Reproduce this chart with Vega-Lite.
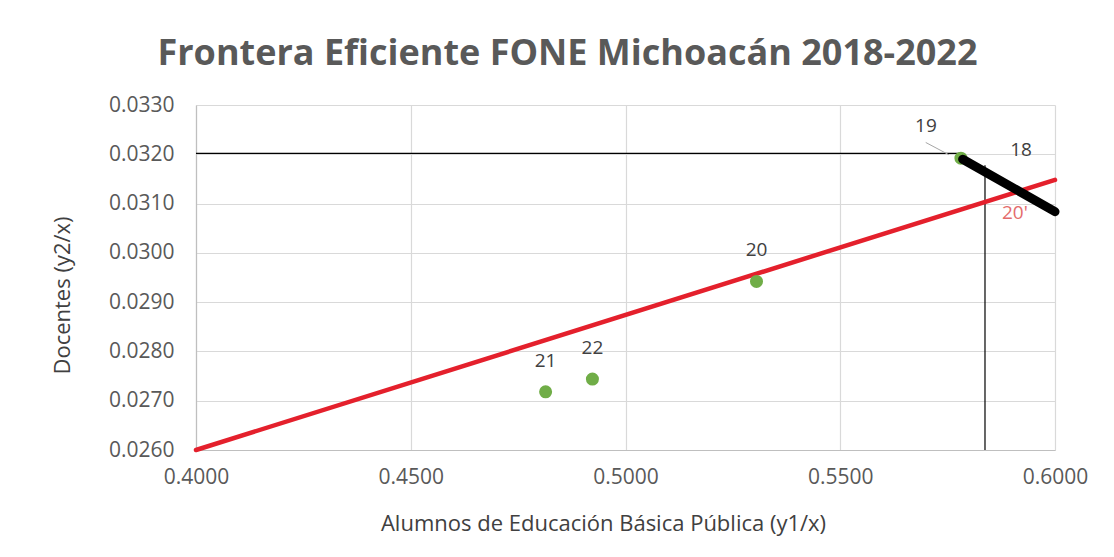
{
  "$schema": "https://vega.github.io/schema/vega-lite/v6.json",
  "width": 859,
  "height": 345,
  "autosize": {"type": "none"},
  "padding": {"left": 196, "top": 105, "right": 59, "bottom": 107},
  "background": "white",
  "title": {
    "text": "Frontera Eficiente FONE Michoacán 2018-2022",
    "font": "Open Sans",
    "fontSize": 36,
    "fontWeight": "bold",
    "color": "#595959",
    "anchor": "middle",
    "frame": "group",
    "dx": -58,
    "offset": 21
  },
  "datasets": {
    "puntos": [
      {"etiqueta": "19", "x": 0.5781, "y": 0.03192, "tipo": "observado"},
      {"etiqueta": "20", "x": 0.5305, "y": 0.02942, "tipo": "observado"},
      {"etiqueta": "21", "x": 0.4814, "y": 0.02718, "tipo": "observado"},
      {"etiqueta": "22", "x": 0.4923, "y": 0.02744, "tipo": "observado"},
      {"etiqueta": "18", "x": 0.5893, "y": 0.0314, "tipo": "frontera"},
      {"etiqueta": "20'", "x": 0.5916, "y": 0.03126, "tipo": "proyectado"}
    ],
    "lineas": [
      {"id": "horizontal", "x": 0.4, "y": 0.03202, "x2": 0.5781, "y2": 0.03202},
      {"id": "vertical", "x": 0.5837, "y": 0.03178, "x2": 0.5837, "y2": 0.026},
      {"id": "regresion", "x": 0.4, "y": 0.026, "x2": 0.6, "y2": 0.03148},
      {"id": "frontera", "x": 0.5785, "y": 0.0319, "x2": 0.6, "y2": 0.030836},
      {"id": "guia19", "x": 0.5699, "y": 0.03224, "x2": 0.5753, "y2": 0.03199}
    ]
  },
  "encoding": {
    "x": {
      "field": "x",
      "type": "quantitative",
      "scale": {"domain": [0.4, 0.6], "nice": false, "zero": false},
      "axis": {
        "values": [0.4, 0.45, 0.5, 0.55, 0.6],
        "format": ".4f",
        "title": "Alumnos de Educación Básica Pública (y1/x)",
        "labelPadding": 16,
        "labelFlush": false,
        "titleX": 407,
        "titleY": 73,
        "titleBaseline": "middle",
        "titleAnchor": null,
        "titleAlign": "center"
      }
    },
    "y": {
      "field": "y",
      "type": "quantitative",
      "scale": {"domain": [0.026, 0.033], "nice": false, "zero": false},
      "axis": {
        "values": [0.026, 0.027, 0.028, 0.029, 0.03, 0.031, 0.032, 0.033],
        "format": ".4f",
        "title": "Docentes (y2/x)",
        "labelPadding": 22,
        "labelFlush": false,
        "titleX": -134,
        "titleY": 190,
        "titleAngle": -90,
        "titleBaseline": "middle",
        "titleAlign": "center",
        "titleAnchor": null
      }
    }
  },
  "layer": [
    {
      "data": {"name": "lineas"},
      "transform": [{"filter": "datum.id === 'horizontal' || datum.id === 'vertical'"}],
      "mark": {"type": "rule", "color": "#000000", "strokeWidth": 1.2},
      "encoding": {"x2": {"field": "x2"}, "y2": {"field": "y2"}}
    },
    {
      "data": {"name": "lineas"},
      "transform": [{"filter": "datum.id === 'regresion'"}],
      "mark": {"type": "rule", "color": "#E4202C", "strokeWidth": 4.5, "strokeCap": "round"},
      "encoding": {"x2": {"field": "x2"}, "y2": {"field": "y2"}}
    },
    {
      "data": {"name": "puntos"},
      "transform": [{"filter": "datum.tipo === 'observado'"}],
      "mark": {"type": "point", "filled": true, "color": "#70AD47", "opacity": 1, "size": 170},
      "encoding": {}
    },
    {
      "data": {"name": "lineas"},
      "transform": [{"filter": "datum.id === 'frontera'"}],
      "mark": {"type": "rule", "color": "#000000", "strokeWidth": 9, "strokeCap": "round"},
      "encoding": {"x2": {"field": "x2"}, "y2": {"field": "y2"}}
    },
    {
      "data": {"name": "lineas"},
      "transform": [{"filter": "datum.id === 'guia19'"}],
      "mark": {"type": "rule", "color": "#a6a6a6", "strokeWidth": 1},
      "encoding": {"x2": {"field": "x2"}, "y2": {"field": "y2"}}
    },
    {
      "data": {"name": "puntos"},
      "transform": [{"filter": "datum.etiqueta === '20' || datum.etiqueta === '21' || datum.etiqueta === '22'"}],
      "mark": {"type": "text", "font": "Open Sans", "fontSize": 19, "color": "#404040", "dy": -31, "baseline": "middle"},
      "encoding": {"text": {"field": "etiqueta"}}
    },
    {
      "data": {"name": "puntos"},
      "transform": [{"filter": "datum.etiqueta === '19'"}],
      "mark": {"type": "text", "font": "Open Sans", "fontSize": 19, "color": "#404040", "dx": -35, "dy": -32, "baseline": "middle"},
      "encoding": {"text": {"field": "etiqueta"}}
    },
    {
      "data": {"name": "puntos"},
      "transform": [{"filter": "datum.etiqueta === '18'"}],
      "mark": {"type": "text", "font": "Open Sans", "fontSize": 19, "color": "#404040", "dx": 12, "dy": -34, "baseline": "middle"},
      "encoding": {"text": {"field": "etiqueta"}}
    },
    {
      "data": {"name": "puntos"},
      "transform": [{"filter": "datum.etiqueta === \"20'\""}],
      "mark": {"type": "text", "font": "Open Sans", "fontSize": 19, "color": "#E46C6C", "dx": -4, "dy": 22, "baseline": "middle"},
      "encoding": {"text": {"field": "etiqueta"}}
    }
  ],
  "config": {
    "view": {"stroke": null},
    "axis": {
      "labelFont": "Open Sans",
      "labelFontSize": 21,
      "labelColor": "#595959",
      "titleFont": "Open Sans",
      "titleFontSize": 22,
      "titleFontWeight": "normal",
      "titleColor": "#404040",
      "gridColor": "#d9d9d9",
      "gridWidth": 1.2,
      "domainColor": "#bfbfbf",
      "domainWidth": 1.2,
      "ticks": false
    }
  }
}
